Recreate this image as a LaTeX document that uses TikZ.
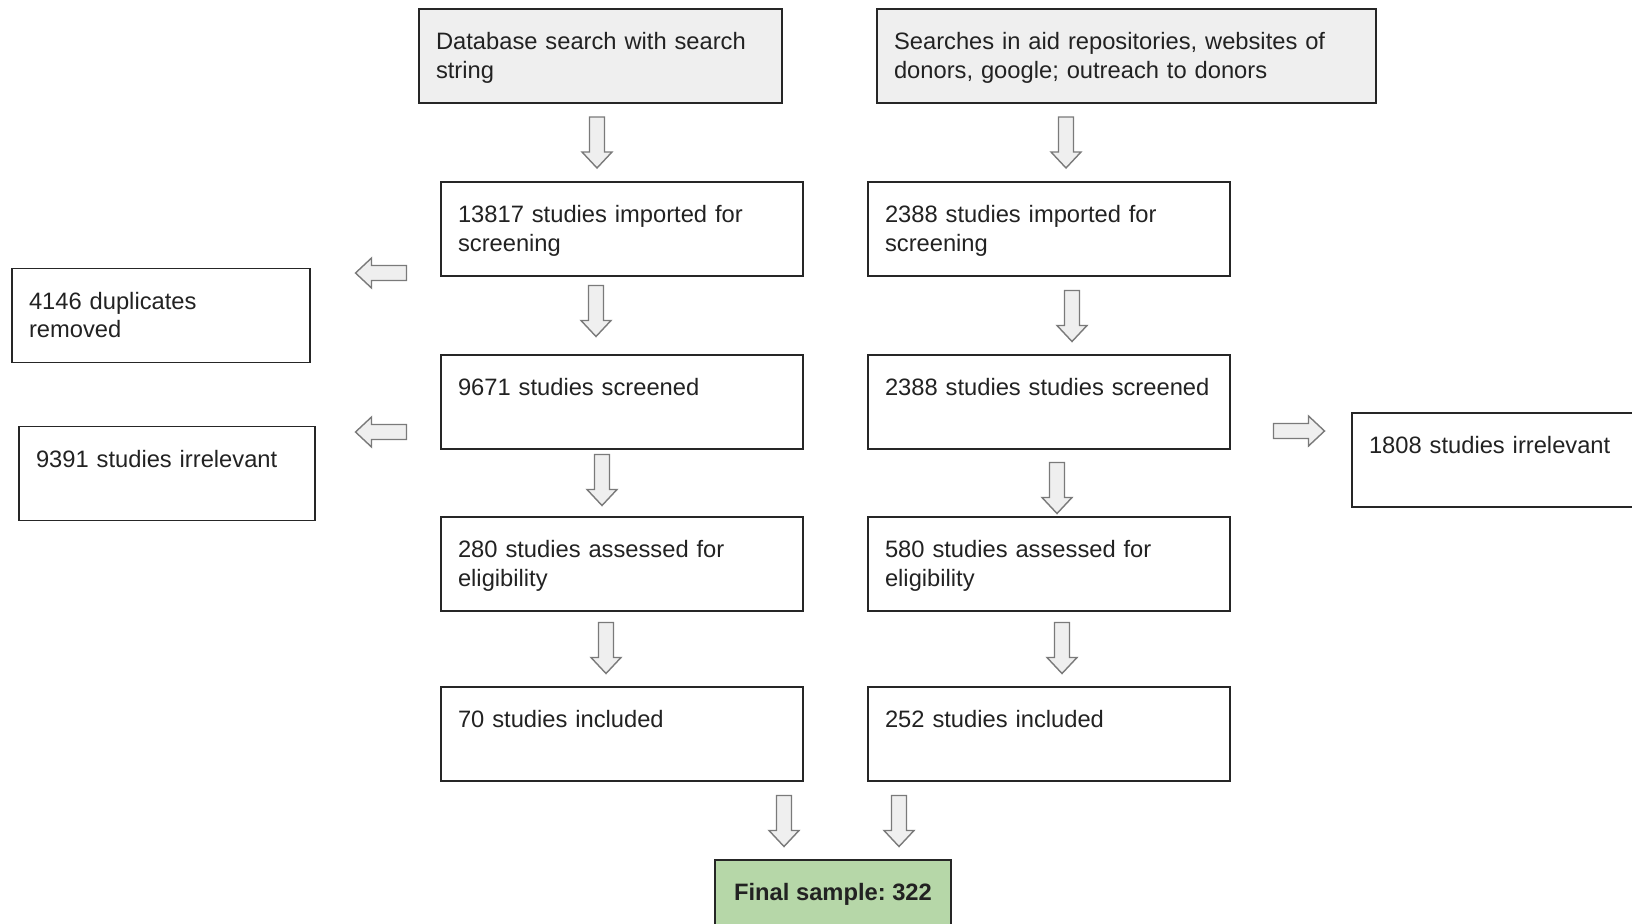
\documentclass[tikz,border=0pt]{standalone}
\usepackage{fontspec}
\setmainfont{Liberation Sans}
\frenchspacing
\definecolor{boxgray}{HTML}{EFEFEF}
\definecolor{finalgreen}{HTML}{B6D7A8}
\definecolor{arrowline}{HTML}{7A7A7A}
\definecolor{textdark}{HTML}{222222}
\tikzset{
  box/.style={draw=black!85, line width=1.1pt, rectangle, minimum height=1.88cm,
    inner xsep=0.34cm, inner ysep=0pt, align=left, text=textdark,
    text height=10pt, text depth=17.4pt, font=\fontsize{13.5pt}{16.4pt}\selectfont},
  mainbox/.style={box, minimum width=7.24cm, text width=6.56cm},
  pics/blockarrow/.style={code={
    \draw[draw=arrowline, fill=boxgray, line width=0.8pt, line join=miter]
      (-25.5,-7.5) -- (9.5,-7.5) -- (9.5,-15) -- (25.5,0) -- (9.5,15) -- (9.5,7.5) -- (-25.5,7.5) -- cycle;
  }}
}
\begin{document}
\begin{tikzpicture}[x=0.02cm, y=-0.02cm]
\useasboundingbox (0,0) rectangle (1632,923);

\node(DB)[box, fill=boxgray, minimum width=7.26cm, text width=6.58cm] at (600.5,56) {Database search with search\\string};
\node(Web)[box, fill=boxgray, minimum width=9.98cm, text width=9.30cm] at (1126.5,56) {Searches in aid repositories, websites of\\donors, google; outreach to donors};

\node(A1)[mainbox] at (622,229) {13817 studies imported for\\screening};
\node(B1)[mainbox] at (1049,229) {2388 studies imported for\\screening};
\node(A2)[mainbox] at (622,402) {9671 studies screened};
\node(B2)[mainbox] at (1049,402) {2388 studies studies screened};
\node(A3)[mainbox] at (622,564) {280 studies assessed for\\eligibility};
\node(B3)[mainbox] at (1049,564) {580 studies assessed for\\eligibility};
\node(A4)[mainbox] at (622,734) {70 studies included};
\node(B4)[mainbox] at (1049,734) {252 studies included};

\node(Dup)[box, minimum width=5.96cm, text width=5.28cm] at (161,315.5) {4146 duplicates\\removed};
\node(IrrA)[box, minimum width=5.92cm, text width=5.24cm] at (167,473.5) {9391 studies irrelevant};
\node(IrrB)[box, minimum width=6.00cm, text width=5.32cm] at (1502,460) {1808 studies irrelevant};

\node(Final)[box, fill=finalgreen, minimum width=4.72cm, inner xsep=0.3cm, font=\fontsize{13.5pt}{16.4pt}\selectfont\bfseries] at (833,907) {Final sample: 322};

\pic[rotate=-90] (arDB) at (597,142.5) {blockarrow};
\pic[rotate=-90] (arWeb) at (1066,142.5) {blockarrow};
\pic[rotate=-90] (arA1) at (596,311) {blockarrow};
\pic[rotate=-90] (arB1) at (1072,316) {blockarrow};
\pic[rotate=-90] (arA2) at (602,480) {blockarrow};
\pic[rotate=-90] (arB2) at (1057,488) {blockarrow};
\pic[rotate=-90] (arA3) at (606,648) {blockarrow};
\pic[rotate=-90] (arB3) at (1062,648) {blockarrow};
\pic[rotate=-90] (arA4) at (784,821) {blockarrow};
\pic[rotate=-90] (arB4) at (899,821) {blockarrow};
\pic[rotate=180] (arDup) at (381,273) {blockarrow};
\pic[rotate=180] (arIrrA) at (381,432) {blockarrow};
\pic (arIrrB) at (1299,431) {blockarrow};
\end{tikzpicture}
\end{document}
